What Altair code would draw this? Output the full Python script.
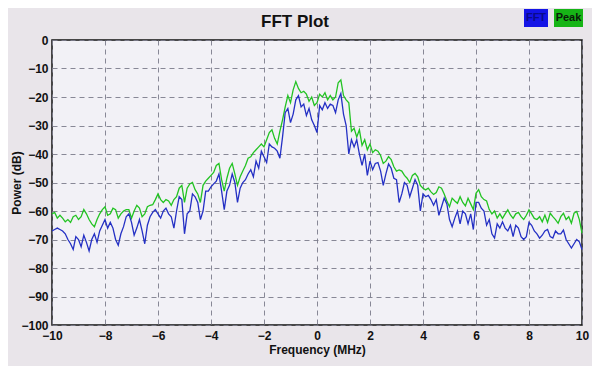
import altair as alt
import numpy as np
import pandas as pd

freq = np.round(np.linspace(-10, 10, 201), 1)

fft_db = [
    -67, -66.5, -66, -66.5, -67, -68, -70, -71.5, -73.5, -69,
    -70, -72.5, -68.5, -71, -74, -70, -68, -71, -67, -65,
    -63, -66, -64, -66, -70, -72, -68, -65.5, -62, -61,
    -64, -68.5, -66, -63, -67, -71.5, -65, -62, -60.5, -59.5,
    -61, -62.5, -60, -59, -61, -62, -66, -60, -55, -56,
    -68, -61, -60, -54, -55, -57, -63, -60, -53, -53,
    -51.5, -50.5, -49.5, -47, -53, -59.5, -53, -51, -47, -50,
    -57, -52, -50, -49, -47, -45.5, -48, -42.5, -45, -39,
    -41, -43, -36.5, -37.5, -38, -39, -41.5, -34, -25.5, -24,
    -29, -26, -21, -19.5, -23.5, -22.5, -26.5, -24, -28, -30,
    -32.5, -23, -24.5, -22, -24, -22.5, -23, -25.5, -21, -18.8,
    -26, -30, -40, -35, -37.5, -35, -40, -44, -40, -47.5,
    -42.5, -45.5, -43.3, -43, -46, -51, -47, -43.5, -45, -48.5,
    -49, -57, -54, -50, -51, -55, -52, -49, -51, -60,
    -54, -55, -54.5, -56, -58, -56, -61.5, -58.5, -55.5, -57.5,
    -63, -65.5, -62.5, -60, -64.5, -60, -61, -64.5, -61, -66.5,
    -57, -57, -59, -60, -65, -63, -68, -69.5, -64.5, -66,
    -63.8, -66, -67, -65, -69, -65, -66, -69, -70, -69,
    -64, -65, -67, -68, -69.5, -68.5, -67, -66.5, -69, -69.5,
    -67, -68, -68, -66.7, -70, -71.5, -73, -71.5, -70, -70.8,
    -73.5,
]

peak_db = [
    -61, -60.5, -62.5, -61.5, -62.5, -63.8, -63, -64, -62, -61.5,
    -63, -62, -59.5, -61, -63, -64.5, -65.5, -63, -61, -59.5,
    -58.5, -61.5, -61, -59, -59.5, -62.5, -61, -60, -59.5, -59.5,
    -62.5, -60, -58, -59, -62, -61, -58.5, -58, -57.8, -56,
    -54, -56, -57, -56, -56.5, -58, -56, -55, -52, -51,
    -57, -52, -50.5, -50, -52.5, -54, -57, -51, -49.5, -48.5,
    -47.5, -46.5, -44, -43.3, -49, -53, -48.5, -45, -43.3, -47,
    -51, -48, -46, -44, -41.5, -41, -39.5, -38.5, -37.5, -36.5,
    -37.5, -35, -32.5, -31.5, -34.5, -36.5, -32, -28, -23.5, -19.5,
    -22, -17.5, -14.6, -17, -18.5, -18, -19, -21.5, -20, -23,
    -22, -19, -20, -18.5, -21, -19.5, -21, -20, -15, -14,
    -19.5, -21, -22, -32, -31, -34, -31.5, -37, -35, -38.5,
    -36.5, -39.5, -38.5, -39, -40.5, -43.3, -42.5, -40.9, -42, -44.5,
    -46, -45.6, -46, -47.5, -48.5, -50, -47.5, -46.8, -48, -51,
    -52, -52.6, -52, -53.3, -54.2, -53.5, -51.5, -52, -54, -56.5,
    -58.5, -55.5, -56.5, -57.3, -55, -57, -58.2, -55.5, -57.5, -59.5,
    -53.8, -52.5, -55, -56, -56.5, -59.5, -61, -60, -62.5, -61,
    -62.6, -61, -59.6, -61.4, -62.6, -61, -60.5, -62, -63, -61.5,
    -59.6, -61, -62.6, -63, -62, -63.8, -61.4, -64, -60.8, -62,
    -63, -64.3, -62, -60.8, -63, -62, -64.3, -60.8, -60.2, -63,
    -67.8,
]

x_ticks = [-10, -8, -6, -4, -2, 0, 2, 4, 6, 8, 10]
y_ticks = [0, -10, -20, -30, -40, -50, -60, -70, -80, -90, -100]
chart_title = ["FFT Plot"]
legend_names = ["FFT", "Peak"]
legend_fill = ["#1414e6", "#16b416"]
legend_text_color = ["#0a0a8a", "#0a1a0a"]

FONT = "Liberation Sans"

df_fft = pd.DataFrame({"freq": freq, "db": fft_db})
df_peak = pd.DataFrame({"freq": freq, "db": peak_db})

xenc = alt.X("freq:Q", title="Frequency (MHz)",
             scale=alt.Scale(domain=[-10, 10], nice=False, zero=False),
             axis=alt.Axis(values=x_ticks, format="d"))
yenc = alt.Y("db:Q", title="Power (dB)",
             scale=alt.Scale(domain=[-100, 0], nice=False),
             axis=alt.Axis(values=y_ticks, format="d"))

peak_line = alt.Chart(df_peak).mark_line(color="#22c322", strokeWidth=1.3).encode(x=xenc, y=yenc)
fft_line = alt.Chart(df_fft).mark_line(color="#2430c4", strokeWidth=1.3).encode(x=xenc, y=yenc)

title_txt = alt.Chart(pd.DataFrame({"t": chart_title})).mark_text(
    font=FONT, fontSize=17, fontWeight="bold", color="#111111", align="center", baseline="alphabetic"
).encode(x=alt.value(243), y=alt.value(-13), text="t:N")

# legend boxes (top right, outside the plot area)
leg_fft_box = alt.Chart(pd.DataFrame({"n": [legend_names[0]]})).mark_rect(color=legend_fill[0]).encode(
    x=alt.value(472), x2=alt.value(496), y=alt.value(-31), y2=alt.value(-13))
leg_peak_box = alt.Chart(pd.DataFrame({"n": [legend_names[1]]})).mark_rect(color=legend_fill[1]).encode(
    x=alt.value(502), x2=alt.value(531), y=alt.value(-31), y2=alt.value(-13))
leg_fft_txt = alt.Chart(pd.DataFrame({"n": [legend_names[0]]})).mark_text(
    font=FONT, fontSize=11, fontWeight="bold", color=legend_text_color[0], align="center", baseline="middle"
).encode(x=alt.value(484), y=alt.value(-22), text="n:N")
leg_peak_txt = alt.Chart(pd.DataFrame({"n": [legend_names[1]]})).mark_text(
    font=FONT, fontSize=11, fontWeight="bold", color=legend_text_color[1], align="center", baseline="middle"
).encode(x=alt.value(516.5), y=alt.value(-22), text="n:N")

chart = alt.layer(
    peak_line, fft_line, title_txt, leg_fft_box, leg_peak_box, leg_fft_txt, leg_peak_txt
).properties(
    width=530, height=285,
    autosize=alt.AutoSizeParams(type="none"),
    padding={"left": 44, "top": 32, "right": 10, "bottom": 41},
    background="#e9e5ea",
).configure_view(
    stroke="#111111", strokeWidth=1.5, fill="#f2f1f6"
).configure_axis(
    labelFont=FONT, labelFontSize=12, labelFontWeight="bold", labelColor="#111111",
    titleFont=FONT, titleFontSize=12, titleFontWeight="bold", titleColor="#111111",
    domain=False, ticks=False, grid=True, gridColor="#7c7c8c", gridDash=[5, 4], gridWidth=1,
    gridOpacity=0.9, labelFlush=False,
).configure_axisX(
    labelPadding=5, titlePadding=3
).configure_axisY(
    labelPadding=4, titlePadding=-3
)

chart.save("out.html", embed_options={"renderer": "svg", "actions": False})
